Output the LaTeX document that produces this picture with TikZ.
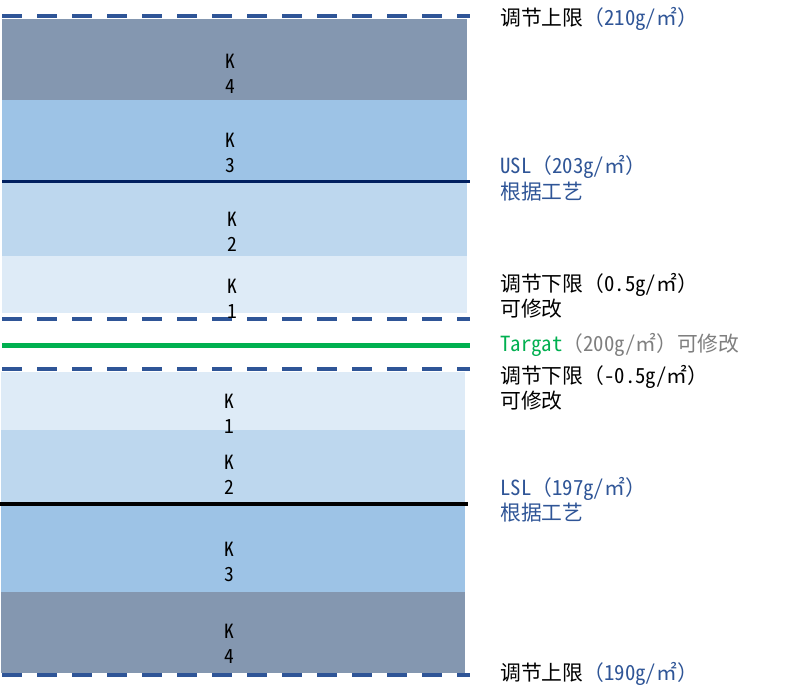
\documentclass[tikz,border=0pt]{standalone}
\usepackage{fontspec}
\setmainfont{Noto Sans CJK SC}
\newfontfamily\hw{Noto Sans CJK SC}[RawFeature=+hwid]
\definecolor{kfour}{HTML}{8497B0}
\definecolor{kthree}{HTML}{9DC3E6}
\definecolor{ktwo}{HTML}{BDD7EE}
\definecolor{kone}{HTML}{DEEBF7}
\definecolor{dashblue}{HTML}{2F5597}
\definecolor{navyline}{HTML}{002060}
\definecolor{tblue}{HTML}{2F5597}
\definecolor{tgreen}{HTML}{00B050}
\definecolor{tgray}{HTML}{7F7F7F}
\begin{document}
\begin{tikzpicture}[x=1pt,y=-1pt,
  limline/.style={dashblue, line width=4pt, dash pattern=on 20pt off 15pt},
  klabel/.style={align=center, font=\hw\fontsize{19.5}{25.5}\selectfont, inner sep=0pt},
  rlabel/.style={anchor=west, font=\fontsize{20.8}{24}\selectfont, inner sep=0pt}]
\useasboundingbox (0,0) rectangle (787,694);
\fill[white] (0,0) rectangle (787,694);
% upper bands
\fill[kfour]  (2,19)  rectangle (467,100);
\fill[kthree] (2,100) rectangle (467,180);
\fill[ktwo]   (2,181) rectangle (467,256);
\fill[kone]   (2,256) rectangle (467,313);
% lower bands
\fill[kone]   (1,372) rectangle (465,430);
\fill[ktwo]   (1,430) rectangle (465,503);
\fill[kthree] (1,505) rectangle (465,592);
\fill[kfour]  (1,592) rectangle (465,673);
% limit lines
\coordinate (d1a) at (2,16);  \coordinate (d1b) at (470,16);
\coordinate (d2a) at (2,319); \coordinate (d2b) at (470,319);
\coordinate (d3a) at (2,369); \coordinate (d3b) at (470,369);
\coordinate (d4a) at (2,675); \coordinate (d4b) at (470,675);
\coordinate (usla) at (2,181); \coordinate (uslb) at (470,181);
\coordinate (tga) at (2,345.5); \coordinate (tgb) at (470,345.5);
\coordinate (lsla) at (0,504); \coordinate (lslb) at (468,504);
\draw[limline] (d1a) -- (d1b);
\draw[limline] (d2a) -- (d2b);
\draw[limline] (d3a) -- (d3b);
\draw[limline] (d4a) -- (d4b);
\draw[navyline, line width=3pt] (usla) -- (uslb);
\draw[tgreen, line width=4.5pt] (tga) -- (tgb);
\draw[black, line width=4pt] (lsla) -- (lslb);
% K labels
\node[klabel] (k4u) at (230,74)  {K\\4};
\node[klabel] (k3u) at (230,153) {K\\3};
\node[klabel] (k2u) at (232,232) {K\\2};
\node[klabel] (k1u) at (232,299) {K\\1};
\node[klabel] (k1l) at (229,414) {K\\1};
\node[klabel] (k2l) at (229,475) {K\\2};
\node[klabel] (k3l) at (229,562) {K\\3};
\node[klabel] (k4l) at (229,644) {K\\4};
% right labels
\node[rlabel] (t1) at (500,19) {调节上限\textcolor{tblue}{（{\hw 210g/}㎡）}};
\node[rlabel, text=tblue] (t2a) at (500,167) {{\hw USL}（{\hw 203g/}㎡）};
\node[rlabel, text=tblue] (t2b) at (500,192) {根据工艺};
\node[rlabel] (t3a) at (500,285) {调节下限（{\hw 0.5g/}㎡）};
\node[rlabel] (t3b) at (500,309) {可修改};
\node[rlabel, text=tgray] (t4) at (500,345) {\textcolor{tgreen}{\hw Targat}（{\hw 200g/}㎡）可修改};
\node[rlabel] (t5a) at (500,377) {调节下限（{\hw -0.5g/}㎡）};
\node[rlabel] (t5b) at (500,401) {可修改};
\node[rlabel, text=tblue] (t6a) at (500,489) {{\hw LSL}（{\hw 197g/}㎡）};
\node[rlabel, text=tblue] (t6b) at (500,513) {根据工艺};
\node[rlabel] (t7) at (500,674) {调节上限\textcolor{tblue}{（{\hw 190g/}㎡）}};
\end{tikzpicture}
\end{document}
